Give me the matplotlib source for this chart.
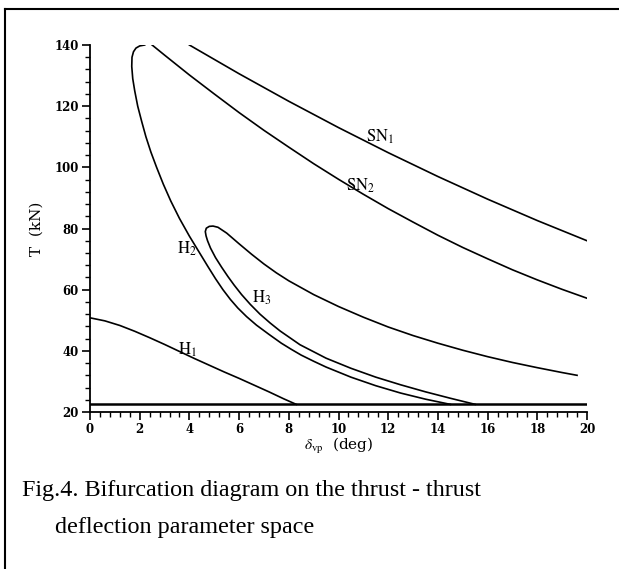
import numpy as np
import matplotlib.pyplot as plt
from matplotlib.lines import Line2D
from matplotlib.ticker import MultipleLocator

# Curve data: delta_vp (deg) vs T (kN).
base_x = [0.0, 20.0]
base_T = [22.5, 22.5]

h1_x = [0.0, 0.6, 1.2, 1.8, 2.4, 3.0, 3.6, 4.2, 4.8, 5.4, 6.0, 6.6, 7.2,
        7.8, 8.3]
h1_T = [50.8, 49.8, 48.3, 46.4, 44.3, 42.1, 39.8, 37.5, 35.3, 33.1, 31.0,
        28.8, 26.6, 24.3, 22.5]

h2_x = [2.2, 2.0, 1.85, 1.75, 1.69, 1.68, 1.72, 1.8, 1.92, 2.08, 2.25,
        2.45, 2.68, 2.95, 3.25, 3.6, 4.0, 4.45, 4.75, 5.05, 5.35, 5.65,
        5.95, 6.3, 6.7, 7.2, 7.7, 8.1, 8.5, 9.0, 9.5, 10.5, 11.5, 12.5,
        13.5, 14.5]
h2_T = [140.0, 139.7, 139.0, 137.8, 136.0, 133.0, 129.0, 125.0, 120.0,
        115.0, 110.0, 105.0, 100.0, 94.5, 89.0, 83.3, 77.5, 71.5, 67.5,
        63.6, 60.0, 56.8, 54.0, 51.2, 48.4, 45.4, 42.5, 40.5, 38.6, 36.6,
        34.7, 31.4, 28.6, 26.2, 24.2, 22.5]

h3_x = [15.5, 14.5, 13.5, 12.5, 11.5, 10.5, 9.5, 9.0, 8.45, 7.65, 7.25,
        6.84, 6.45, 6.1, 5.8, 5.55, 5.3, 5.05, 4.85, 4.73, 4.67, 4.64, 4.68,
        4.8, 4.95, 5.15, 5.5, 6.0, 6.5, 7.0, 7.5, 8.0, 9.0, 10.0, 11.0,
        12.0, 13.0, 14.0, 15.0, 16.0, 17.0, 18.0, 19.0, 19.6]
h3_T = [22.5, 24.5, 26.6, 28.9, 31.4, 34.3, 37.6, 39.7, 42.0, 46.5, 49.1,
        52.0, 55.2, 58.4, 61.5, 64.3, 67.3, 70.5, 73.6, 76.0, 77.6, 79.0,
        80.1, 80.7, 80.8, 80.4, 78.5, 75.0, 71.6, 68.4, 65.5, 62.9, 58.4,
        54.5, 51.0, 47.8, 45.0, 42.5, 40.2, 38.1, 36.2, 34.5, 32.9, 32.0]

sn1_x = [4, 5, 6, 7, 8, 9, 10, 11, 12, 13, 14, 15, 16, 17, 18, 19, 20]
sn1_T = [140.0, 135.3, 130.6, 126.1, 121.6, 117.3, 113.0, 108.9, 104.8,
         100.9, 97.0, 93.3, 89.6, 86.1, 82.6, 79.3, 76.0]

sn2_x = [2.5, 3, 4, 5, 6, 7, 8, 9, 10, 11, 12, 13, 14, 15, 16, 17, 18,
         19, 20]
sn2_T = [140.0, 136.7, 130.2, 124.0, 117.9, 112.1, 106.6, 101.2, 96.1,
         91.2, 86.5, 82.1, 77.8, 73.8, 70.1, 66.5, 63.2, 60.1, 57.2]

# Curve labels and where they sit.
labels = [r'$\mathrm{SN}_1$', r'$\mathrm{SN}_2$', r'$\mathrm{H}_1$',
          r'$\mathrm{H}_2$', r'$\mathrm{H}_3$']
label_x = [11.67, 10.9, 3.94, 3.89, 6.91]
label_T = [110.0, 94.0, 40.3, 73.5, 57.2]

plt.rcParams['mathtext.fontset'] = 'stix'

fig = plt.figure(figsize=(6.19, 5.69), dpi=100)
ax = fig.add_axes([0.1454, 0.2759, 0.8029, 0.645])

lw = 1.2
ax.plot(base_x, base_T, color='black', lw=1.8)
for xs, ts in [(h1_x, h1_T), (h2_x, h2_T), (h3_x, h3_T),
               (sn1_x, sn1_T), (sn2_x, sn2_T)]:
    ax.plot(xs, ts, color='black', lw=lw, solid_joinstyle='round')

for s, x, t in zip(labels, label_x, label_T):
    ax.text(x, t, s, fontsize=12, ha='center', va='center')

ax.set_xlim(0, 20)
ax.set_ylim(20, 140)
ax.spines['top'].set_visible(False)
ax.spines['right'].set_visible(False)
for side in ['left', 'bottom']:
    ax.spines[side].set_linewidth(1.3)

ax.xaxis.set_major_locator(MultipleLocator(2))
ax.xaxis.set_minor_locator(MultipleLocator(0.4))
ax.yaxis.set_major_locator(MultipleLocator(20))
ax.yaxis.set_minor_locator(MultipleLocator(4))
ax.tick_params(which='major', direction='out', length=6, width=1.2,
               labelsize=8.5, pad=2)
ax.tick_params(which='minor', direction='out', length=3.5, width=1.0)
for lab in ax.get_xticklabels() + ax.get_yticklabels():
    lab.set_family('DejaVu Serif')
    lab.set_fontweight('bold')

ax.set_xlabel(r'$\delta_{\mathrm{vp}}$  (deg)', family='DejaVu Serif',
              fontsize=11, labelpad=0)
ax.set_ylabel('T  (kN)', family='DejaVu Serif', fontsize=11, labelpad=8)

# Caption below the plot.
fig.text(0.0355, 0.1388, 'Fig.4. Bifurcation diagram on the thrust - thrust',
         family='Liberation Serif', fontsize=17.4, va='center')
fig.text(0.0889, 0.0738, 'deflection parameter space',
         family='Liberation Serif', fontsize=17.4, va='center')

# Frame lines (left and top).
fig.add_artist(Line2D([0.008, 0.008], [0.0, 0.984], color='black', lw=1.5))
fig.add_artist(Line2D([0.008, 1.0], [0.984, 0.984], color='black', lw=1.5))

fig.savefig('out.png', dpi=100)
